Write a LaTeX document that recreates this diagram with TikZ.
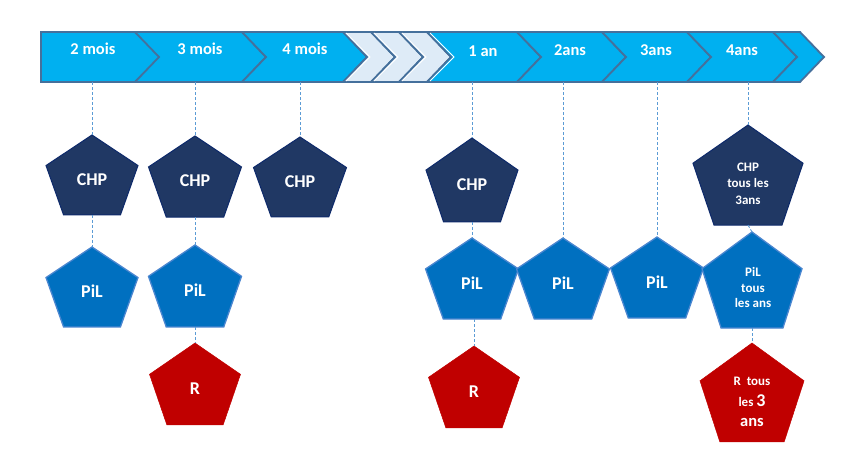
\documentclass[tikz,border=0pt]{standalone}
\usepackage{fontspec}
\setmainfont{Carlito}
\usetikzlibrary{shapes.geometric}
\definecolor{bandc}{HTML}{00B0F0}
\definecolor{bandl}{HTML}{45709C}
\definecolor{lightc}{HTML}{DEEBF7}
\definecolor{chpc}{HTML}{203864}
\definecolor{chpl}{HTML}{0E2A6B}
\definecolor{pilc}{HTML}{0070C0}
\definecolor{pill}{HTML}{4A86D0}
\definecolor{rc}{HTML}{C00000}
\definecolor{dashc}{HTML}{5B9BD5}
\newcommand\mychev[3]{\path[#1] (#2,32) -- (#3,32) -- (#3+24,57) -- (#3,82) -- (#2,82) -- (#2+24,57) -- cycle;}
\begin{document}
\begin{tikzpicture}[x=1pt,y=-1pt,
  seg/.style={fill=bandc,draw=bandl,line width=1.8pt,line join=miter},
  lseg/.style={fill=lightc,draw=bandl,line width=1.8pt,line join=miter},
  bandtxt/.style={text=white,font=\bfseries\fontsize{16.5}{18}\selectfont,inner sep=0},
  pent/.style={regular polygon,regular polygon sides=5,inner sep=0,outer sep=0,transform shape},
  chp/.style={pent,fill=chpc,draw=chpl,line width=1pt},
  pil/.style={pent,fill=pilc,draw=pill,line width=1.3pt},
  rr/.style={pent,fill=rc,draw=rc,line width=0.5pt},
  ptxt/.style={text=white,font=\bfseries\fontsize{18}{20}\selectfont,inner sep=0,align=center},
  stxt/.style={text=white,font=\bfseries\fontsize{13}{16.5}\selectfont,inner sep=0,align=center},
  conn/.style={draw=dashc,line width=0.9pt,dash pattern=on 3pt off 2pt}]
\useasboundingbox[fill=white] (0,0) rectangle (854,472);

% ---- timeline band ----
\path[seg] (41,32) -- (135,32) -- (160,57) -- (135,82) -- (41,82) -- cycle;
\mychev{seg}{135}{242}
\mychev{seg}{242}{343}
\mychev{lseg}{343}{371}
\mychev{lseg}{371}{399}
\mychev{lseg}{399}{427}
\mychev{seg}{427}{517}
\mychev{seg}{517}{602}
\mychev{seg}{602}{687}
\mychev{seg}{687}{773}
\mychev{seg}{773}{800}
\foreach \L in {343,371,399,427}
  \draw[white,line width=0.9pt] (\L+3,33) -- (\L+27,57) -- (\L+3,81);

\node[bandtxt] (t1) at (93,49) {2 mois};
\node[bandtxt] (t2) at (200,49) {3 mois};
\node[bandtxt] (t3) at (305,49) {4 mois};
\node[bandtxt] (t4) at (483,51.5) {1 an};
\node[bandtxt] (t5) at (570,50) {2ans};
\node[bandtxt] (t6) at (656,50) {3ans};
\node[bandtxt] (t7) at (742,50) {4ans};

\coordinate (b1) at (92,82);
\coordinate (b2) at (195,82);
\coordinate (b3) at (300,82);
\coordinate (b4) at (472,82);
\coordinate (b5) at (563,82);
\coordinate (b6) at (657,82);
\coordinate (b7) at (748,82);

% ---- pentagons ----
\node[chp,minimum size=88.4pt,xscale=1.094] (chp1) at (92,179.2) {};
\node[chp,minimum size=89.6pt,xscale=1.091] (chp2) at (195,180.8) {};
\node[chp,minimum size=88.4pt,xscale=1.106] (chp3) at (300,181.2) {};
\node[chp,minimum size=92.8pt,xscale=1.042] (chp4) at (472,184.4) {};
\node[chp,minimum size=110.6pt,xscale=1.046] (chp5) at (748,180.3) {};

\node[pil,minimum size=88.4pt,xscale=1.094] (pil1) at (92,291.2) {};
\node[pil,minimum size=90.6pt,xscale=1.08] (pil2) at (195,290.3) {};
\node[pil,minimum size=89.6pt,xscale=1.09] (pil4) at (472,282.8) {};
\node[pil,minimum size=89.6pt,xscale=1.09] (pil5) at (563,282.8) {};
\node[pil,minimum size=89.6pt,xscale=1.09] (pil6) at (657,281.8) {};
\node[pil,minimum size=106.2pt,xscale=0.99] (pil7) at (752,285.1) {};

\node[rr,minimum size=90.6pt,xscale=1.056] (r2) at (195,388.3) {};
\node[rr,minimum size=90.6pt,xscale=1.056] (r4) at (474,391.3) {};
\node[rr,minimum size=109.4pt,xscale=1.0] (r7) at (752,397.7) {};

% ---- texts ----
\node[ptxt] (chp1t) at (chp1.center) {CHP};
\node[ptxt] (chp2t) at (chp2.center) {CHP};
\node[ptxt] (chp3t) at (chp3.center) {CHP};
\node[ptxt] (chp4t) at (chp4.center) {CHP};
\node[stxt] (chp5t) at (748,183.5) {CHP\\tous les\\3ans};
\node[ptxt] (pil1t) at (pil1.center) {PiL};
\node[ptxt] (pil2t) at (pil2.center) {PiL};
\node[ptxt] (pil4t) at (pil4.center) {PiL};
\node[ptxt] (pil5t) at (pil5.center) {PiL};
\node[ptxt] (pil6t) at (pil6.center) {PiL};
\node[stxt,font=\bfseries\fontsize{13}{15.5}\selectfont] (pil7t) at (753,287.5) {PiL\\tous\\les ans};
\node[ptxt] (r2t) at (r2.center) {R};
\node[ptxt] (r4t) at (r4.center) {R};
\node[stxt,font=\bfseries\fontsize{13}{20.5}\selectfont] (r7t) at (752,402)
  {R\ \ tous\\les {\fontsize{18}{20.5}\selectfont 3}\\{\fontsize{16.5}{20.5}\selectfont ans}};

% ---- connectors ----
\draw[conn] (b1) -- (chp1.north);
\draw[conn] (b2) -- (chp2.north);
\draw[conn] (b3) -- (chp3.north);
\draw[conn] (b4) -- (chp4.north);
\draw[conn] (b5) -- (pil5.north);
\draw[conn] (b6) -- (pil6.north);
\draw[conn] (b7) -- (chp5.north);
\draw[conn] (chp1.south) -- (pil1.north);
\draw[conn] (chp2.south) -- (pil2.north);
\draw[conn] (chp4.south) -- (pil4.north);
\draw[conn] (chp5.south) -- (pil7.north);
\draw[conn] (pil2.south) -- (r2.north);
\draw[conn] (r4.north |- pil4.south) -- (r4.north);
\draw[conn] (pil7.south) -- (r7.north);
\end{tikzpicture}
\end{document}
